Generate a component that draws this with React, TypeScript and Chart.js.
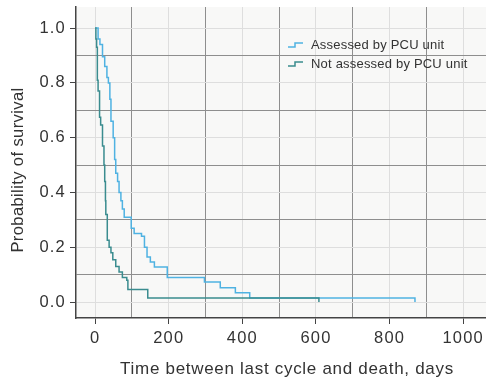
import React, { useEffect, useRef } from "react";
import { Chart, registerables } from "chart.js";

Chart.register(...registerables);

const assessedDays = [0, 8, 13, 20, 26, 32, 36, 40, 43, 49, 53, 56, 61, 65, 70, 74, 79, 98, 106, 126, 134, 141, 150, 161, 196, 297, 340, 381, 420, 869];
const assessedSurv = [1.0, 0.96, 0.94, 0.895, 0.86, 0.82, 0.8, 0.74, 0.66, 0.6, 0.52, 0.47, 0.44, 0.4, 0.37, 0.34, 0.31, 0.27, 0.25, 0.24, 0.2, 0.165, 0.146, 0.128, 0.09, 0.073, 0.052, 0.034, 0.015, 0.0];

const notAssessedDays = [0, 2, 4, 6, 8, 12, 15, 20, 24, 26, 28, 29, 33, 38, 43, 48, 56, 65, 74, 86, 89, 143, 608];
const notAssessedSurv = [1.0, 0.96, 0.93, 0.81, 0.77, 0.675, 0.646, 0.57, 0.5, 0.44, 0.37, 0.32, 0.226, 0.2, 0.18, 0.155, 0.13, 0.11, 0.09, 0.08, 0.046, 0.015, 0.0];

const seriesLabels = ["Assessed by PCU unit", "Not assessed by PCU unit"];
const seriesColors = ["#4fb2e2", "#3a8c8f"];
const xGridValues = [0, 100, 200, 300, 400, 500, 600, 700, 800, 900, 1000];
const yGridValues = [0, 0.1, 0.2, 0.3, 0.4, 0.5, 0.6, 0.7, 0.8, 0.9, 1.0];
const xTitle = "Time between last cycle and death, days";
const yTitle = "Probability of survival";

const FONT = "'Liberation Sans', Arial, sans-serif";

function isMajor(v: number, step: number) {
  const k = Math.round(v / step);
  return k % 2 === 0;
}

export default function App() {
  const ref = useRef<HTMLCanvasElement>(null);
  useEffect(() => {
    const canvas = ref.current!;
    const bgPlugin = {
      id: "bg",
      beforeDraw(chart: any) {
        const { ctx, chartArea: a } = chart;
        ctx.save();
        ctx.fillStyle = "#f8f8f7";
        ctx.fillRect(a.left, a.top, a.right - a.left, a.bottom - a.top);
        ctx.restore();
        (ctx as any).letterSpacing = "1.2px";
      },
      afterDraw(chart: any) {
        const { ctx } = chart;
        ctx.save();
        (ctx as any).letterSpacing = "0.7px";
        ctx.fillStyle = "#333";
        ctx.font = `17px ${FONT}`;
        ctx.textAlign = "center";
        ctx.textBaseline = "middle";
        ctx.fillText(xTitle, 287, 369);
        (ctx as any).letterSpacing = "0.4px";
        ctx.font = `16.5px ${FONT}`;
        ctx.translate(18, 170);
        ctx.rotate(-Math.PI / 2);
        ctx.fillText(yTitle, 0, 0);
        ctx.restore();
        // legend
        ctx.save();
        (ctx as any).letterSpacing = "0.2px";
        ctx.font = `13px ${FONT}`;
        ctx.textBaseline = "middle";
        ctx.textAlign = "left";
        const rows = [45, 64];
        rows.forEach((yy, i) => {
          ctx.strokeStyle = seriesColors[i];
          ctx.lineWidth = 1.5;
          ctx.beginPath();
          ctx.moveTo(288, yy + 2);
          ctx.lineTo(295, yy + 2);
          ctx.lineTo(295, yy - 2);
          ctx.lineTo(303, yy - 2);
          ctx.stroke();
          ctx.fillStyle = "#333";
          ctx.fillText(seriesLabels[i], 311, yy);
        });
        ctx.restore();
        (ctx as any).letterSpacing = "0px";
      },
    };
    const chart = new Chart(canvas, {
      type: "line",
      data: {
        datasets: [
          {
            label: seriesLabels[0],
            data: assessedDays.map((d, i) => ({ x: d, y: assessedSurv[i] })),
            borderColor: seriesColors[0],
            borderWidth: 1.5,
            stepped: "before",
            pointRadius: 0,
            fill: false,
            order: 1,
          },
          {
            label: seriesLabels[1],
            data: notAssessedDays.map((d, i) => ({ x: d, y: notAssessedSurv[i] })),
            borderColor: seriesColors[1],
            borderWidth: 1.5,
            stepped: "before",
            pointRadius: 0,
            fill: false,
            order: 0,
          },
        ],
      },
      options: {
        animation: false,
        responsive: false,
        maintainAspectRatio: false,
        layout: { padding: { top: 7, right: 0, left: 0, bottom: 0 } },
        plugins: { legend: { display: false }, tooltip: { enabled: false } },
        scales: {
          x: {
            type: "linear",
            min: -52,
            max: 1062,
            afterBuildTicks: (s: any) => {
              s.ticks = xGridValues.map((v) => ({ value: v }));
            },
            afterFit: (s: any) => {
              s.height = 60;
              s.paddingLeft = 0;
              s.paddingRight = 0;
            },
            ticks: {
              autoSkip: false,
              maxRotation: 0,
              padding: 5,
              color: "#333",
              font: { family: FONT, size: 16.5 },
              callback: (v: any) => (isMajor(Number(v), 100) ? String(v) : ""),
            },
            grid: {
              color: (c: any) => (isMajor(c.tick.value, 100) ? "#dedede" : "#8e8e8e"),
              tickColor: (c: any) => (isMajor(c.tick.value, 100) ? "#444" : "rgba(0,0,0,0)"),
              tickLength: 6,
              lineWidth: 1,
            },
            border: { display: true, color: "#444", width: 1.5 },
          },
          y: {
            type: "linear",
            min: -0.058,
            max: 1.077,
            afterBuildTicks: (s: any) => {
              s.ticks = yGridValues.map((v) => ({ value: v }));
            },
            afterFit: (s: any) => {
              s.width = 76;
              s.paddingTop = 0;
              s.paddingBottom = 0;
            },
            ticks: {
              autoSkip: false,
              padding: 4,
              color: "#333",
              font: { family: FONT, size: 16.5 },
              callback: (v: any) => (isMajor(Number(v), 0.1) ? Number(v).toFixed(1) : ""),
            },
            grid: {
              color: (c: any) => (isMajor(c.tick.value, 0.1) ? "#dedede" : "#8e8e8e"),
              tickColor: (c: any) => (isMajor(c.tick.value, 0.1) ? "#444" : "rgba(0,0,0,0)"),
              tickLength: 6,
              lineWidth: 1,
            },
            border: { display: true, color: "#444", width: 1.5 },
          },
        },
      },
      plugins: [bgPlugin],
    } as any);
    return () => chart.destroy();
  }, []);
  return (
    <div style={{ position: "fixed", left: 0, top: 0, width: 486, height: 378, background: "#fff" }}>
      <canvas ref={ref} width={486} height={378} style={{ display: "block", width: 486, height: 378 }} />
    </div>
  );
}
